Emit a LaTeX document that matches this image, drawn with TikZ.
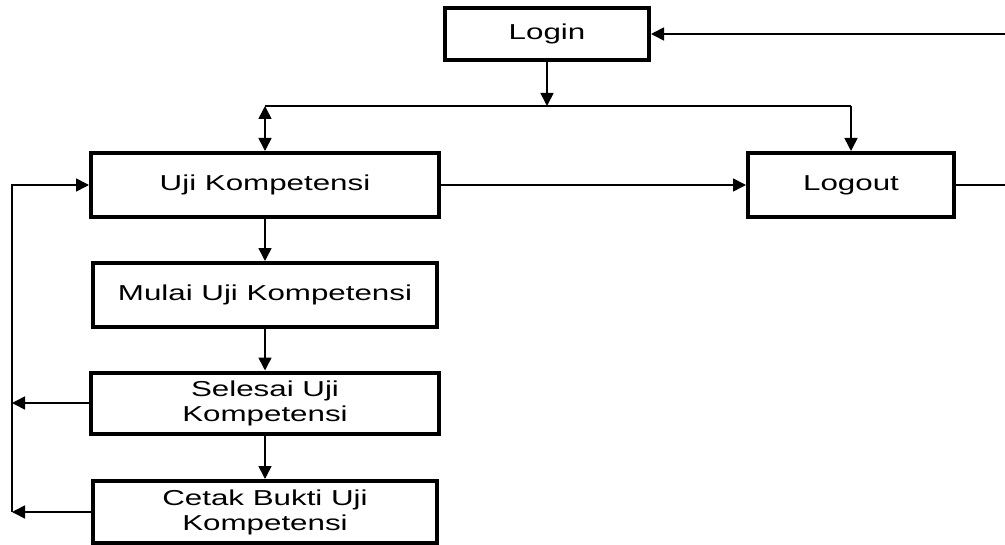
\documentclass[tikz,border=0pt]{standalone}
\usepackage{fontspec}
\setmainfont{Liberation Sans}[FakeStretch=1.45]
\usetikzlibrary{arrows.meta,positioning,calc}
\tikzset{
    every node/.style={color=black, font=\fontsize{10.8}{12.5}\selectfont},
    every path/.style={color=black}
}

\begin{document}
\begin{tikzpicture}[
        x=0.5pt, y=-0.5pt,
        line width=0.8pt,
        >={Triangle[length=6.5pt, width=6.5pt]},
        menu/.style={rectangle, draw, line width=2pt, align=center, inner sep=2pt},
        small/.style={menu, minimum width=102pt, minimum height=26pt},
        wide/.style={menu, minimum width=174pt, minimum height=32pt}
    ]
    \useasboundingbox (0,0) rectangle (1005,545);

    % Nodes
    \node[small, minimum height=26pt] (login) at (547,34) {Login};
    \node[wide] (uji) at (265,185) {Uji Kompetensi};
    \node[small, minimum width=103pt, minimum height=32pt] (logout) at (851,185) {Logout};
    \node[wide, minimum width=172pt] (mulai) at (265,295) {Mulai Uji Kompetensi};
    \node[wide, minimum height=30.5pt] (selesai) at (265,403) {Selesai Uji\\Kompetensi};
    \node[wide, minimum width=172pt, minimum height=31pt] (cetak) at (265,512) {Cetak Bukti Uji\\Kompetensi};

    % Helper points
    \coordinate (split) at (547,106);
    \coordinate (bus) at (12,512);
    \coordinate (back) at (1012,185);

    % Connections
    \draw[->] (login) -- (split);
    \draw (uji.north |- split) -- (logout.north |- split);
    \draw[<->] (uji.north |- split) -- (uji.north);
    \draw[->] (logout.north |- split) -- (logout.north);
    \draw[->] (uji) -- (logout);
    \draw[->] (logout.east) -- (back) |- (login.east);

    \draw[->] (uji) -- (mulai);
    \draw[->] (mulai) -- (selesai);
    \draw[->] (selesai) -- (cetak);

    \draw[->] (selesai.west) -- (selesai.west -| bus);
    \draw[->] (cetak.west) -- (bus);
    \draw[->] (bus) |- (uji.west);

\end{tikzpicture}
\end{document}
